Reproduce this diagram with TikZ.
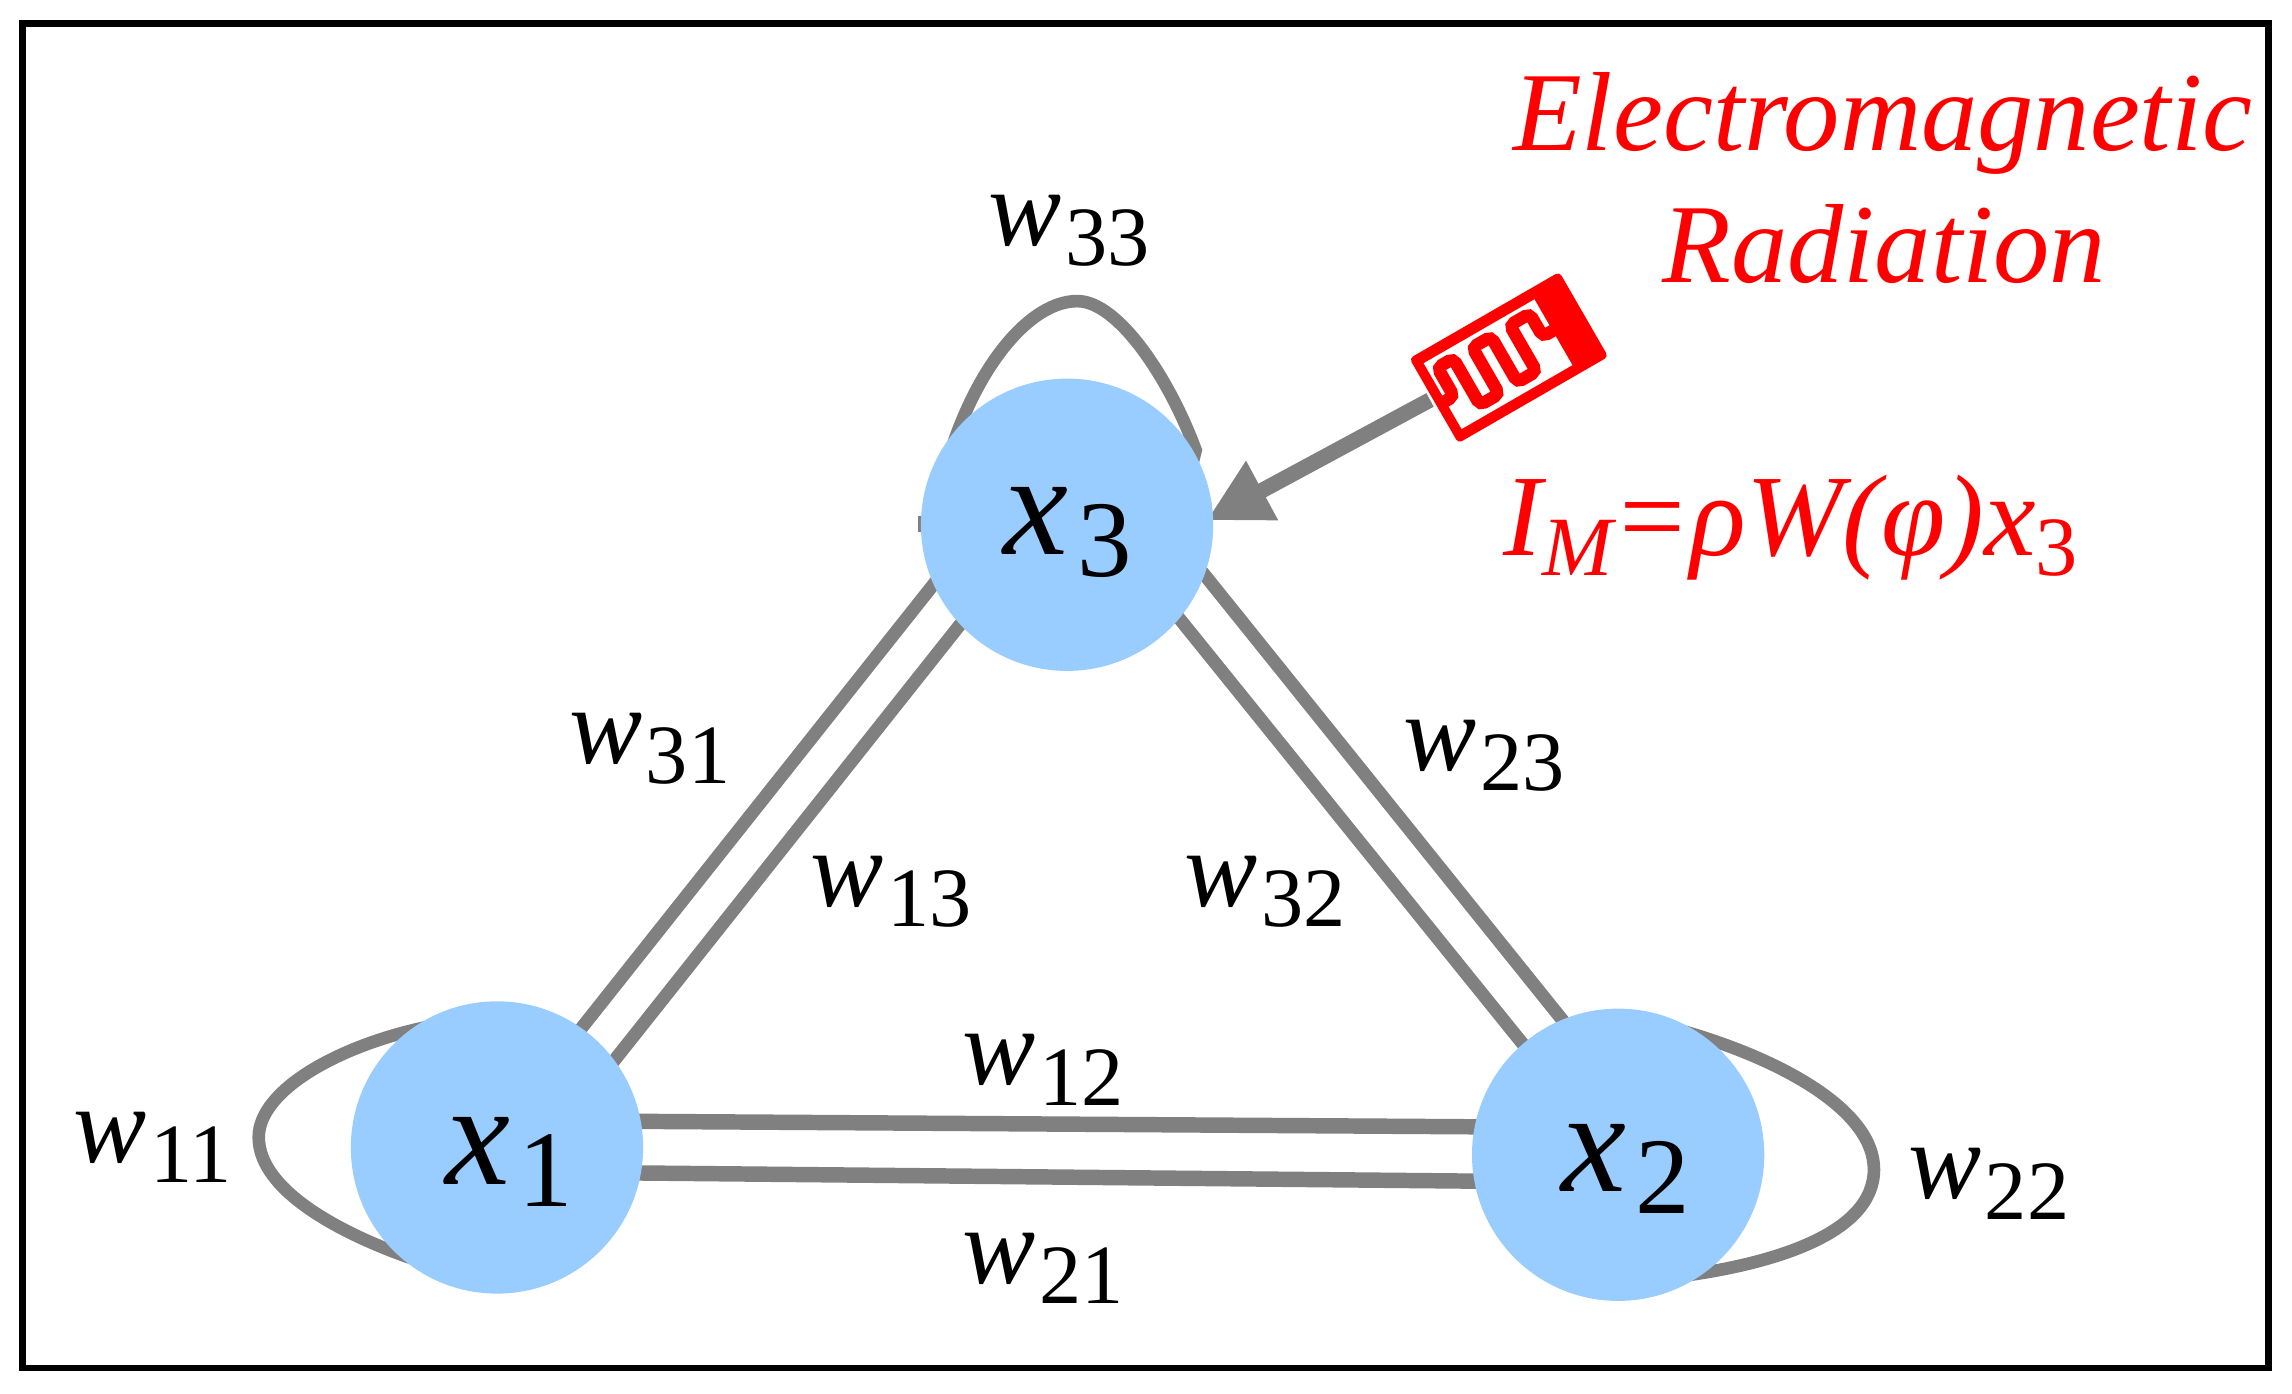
\documentclass[tikz,border=0pt]{standalone}
\usepackage{fontspec}
\setmainfont{Liberation Serif}
\usetikzlibrary{arrows.meta,backgrounds}
\definecolor{nodeblue}{HTML}{99CCFF}
\definecolor{linkgray}{HTML}{808080}
\definecolor{radred}{HTML}{FF0000}
\newcommand{\wlab}[1]{{\fontsize{31.2}{36}\selectfont\itshape w\hspace{1pt}\lower5.8pt\hbox{\fontsize{24}{26}\selectfont\upshape #1}}}
\newcommand{\xlab}[1]{{\fontsize{41.6}{48}\selectfont\itshape x\hspace{2.5pt}\lower6.4pt\hbox{\fontsize{31}{36}\selectfont\upshape #1}}}
\tikzset{
  neuron/.style={circle,fill=nodeblue,minimum size=2.923cm,inner sep=0pt},
  txt/.style={inner sep=0pt,anchor=base west},
  redtxt/.style={inner sep=0pt,text=radred,font=\fontsize{32}{36}\selectfont\itshape},
  diag/.style={draw=linkgray,line width=3.7pt},
  horiz/.style={draw=linkgray,line width=4.4pt},
  loopline/.style={draw=linkgray,line width=3.6pt},
  pointer/.style={draw=linkgray,line width=4.4pt,-{Triangle[length=0.63cm,width=0.63cm]}},
}
\begin{document}
\begin{tikzpicture}[x=0.014617cm,y=-0.014617cm]
\useasboundingbox (0,0) rectangle (1568,953);
\draw[black,line width=1.8pt] (15.5,16) rectangle (1552,936);

\node[neuron] (x1) at (340,785) {};
\node[neuron] (x2) at (1107,790) {};
\node[neuron] (x3) at (730,359) {};
\node[txt] (tx1) at (304,810) {\xlab{1}};
\node[txt] (tx2) at (1068,815) {\xlab{2}};
\node[txt] (tx3) at (686,379) {\xlab{3}};

\coordinate (antfoot) at (978.3,273.6);

\begin{scope}[on background layer]
  \draw[diag] ([shift={(-59,0)}]x3.center) -- ([shift={(-7,0)}]x1.center);
  \draw[diag] ([shift={(-19,0)}]x3.center) -- ([shift={(33,0)}]x1.center);
  \draw[diag] ([shift={(66.5,0)}]x3.center) -- ([shift={(36,0)}]x2.center);
  \draw[diag] ([shift={(25,0)}]x3.center) -- ([shift={(-4,0)}]x2.center);
  \draw[horiz] ([shift={(0,-18.5)}]x1.center) -- ([shift={(0,-18.5)}]x2.center);
  \draw[horiz] ([shift={(0,16.5)}]x1.center) -- ([shift={(0,19)}]x2.center);
  \draw[loopline] ([shift={(-79,-52)}]x3.center) .. controls ([shift={(-60,-110)}]x3.center) and ([shift={(-25,-153)}]x3.center) .. ([shift={(7,-153)}]x3.center)
     .. controls ([shift={(35,-153)}]x3.center) and ([shift={(70,-100)}]x3.center) .. ([shift={(88,-51)}]x3.center) -- ([shift={(84,-35)}]x3.center);
  \draw[linkgray,line width=0.9pt] ([shift={(-101,-6)}]x3.center) -- ([shift={(-101,5)}]x3.center);
  \draw[loopline] ([shift={(-40,-84)}]x1.center) .. controls ([shift={(-105,-72)}]x1.center) and ([shift={(-163,-40)}]x1.center) .. ([shift={(-163,-7)}]x1.center)
     .. controls ([shift={(-163,30)}]x1.center) and ([shift={(-105,60)}]x1.center) .. ([shift={(-55,77)}]x1.center) -- ([shift={(-40,72)}]x1.center);
  \draw[loopline] ([shift={(30,-80)}]x2.center) -- ([shift={(43,-85)}]x2.center) .. controls ([shift={(113,-65)}]x2.center) and ([shift={(175,-30)}]x2.center) .. ([shift={(175,10)}]x2.center)
     .. controls ([shift={(175,55)}]x2.center) and ([shift={(103,75)}]x2.center) .. ([shift={(43,83)}]x2.center) -- ([shift={(30,85)}]x2.center);
  \draw[pointer] (antfoot) -- ([shift={(95.5,-3)}]x3.center);
\end{scope}

% antenna
\begin{scope}[shift={(964.2,245.2)},x={(0.0028854cm,0.0016663cm)},y={(0.0016663cm,-0.0028854cm)}]
  \fill[radred,rounded corners=1.2pt] (0,0) -- (520,0) -- (520,294) -- (0,294) -- cycle;
  \fill[white] (30,34) -- (414,34) -- (414,262) -- (30,262) -- cycle;
  \draw[radred,line width=3.6pt,rounded corners=1.5pt,line cap=butt]
    (20,165) -- (59,165) -- (59,66) -- (114,66) -- (114,227) -- (180,227) -- (180,66) -- (245,66)
    -- (245,224) -- (311,224) -- (311,64) -- (380,64) -- (380,143) -- (425,143);
\end{scope}

\node[txt] (w33) at (676,168) {\wlab{33}};
\node[txt] (w31) at (389,522) {\wlab{31}};
\node[txt] (w13) at (554,620) {\wlab{13}};
\node[txt] (w23) at (960,527) {\wlab{23}};
\node[txt] (w32) at (810,620) {\wlab{32}};
\node[txt] (w12) at (658,742) {\wlab{12}};
\node[txt] (w21) at (658,878) {\wlab{21}};
\node[txt] (w11) at (50,795) {\wlab{11}};
\node[txt] (w22) at (1305,820) {\wlab{22}};

\node[redtxt,anchor=base] (em) at (1288,103) {Electromagnetic};
\node[redtxt,anchor=base] (rad) at (1289,193) {Radiation};
\node[redtxt,anchor=base west,font=\fontsize{33}{36}\selectfont\itshape] (eq) at (1028,380) {I\lower5.8pt\hbox{\fontsize{24}{26}\selectfont M}=ρW(φ)x\lower5.8pt\hbox{\fontsize{24}{26}\selectfont\upshape 3}};
\end{tikzpicture}
\end{document}
